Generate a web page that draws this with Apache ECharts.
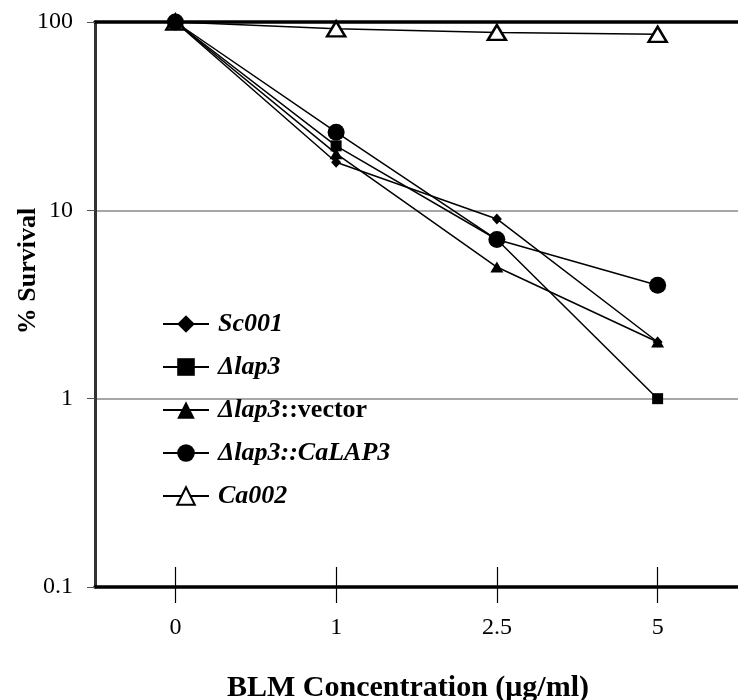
<!DOCTYPE html>
<html>
<head>
<meta charset="utf-8">
<script src="https://cdn.jsdelivr.net/npm/echarts@6/dist/echarts.min.js"></script>
<style>html,body{margin:0;padding:0;background:#fff}#c{width:738px;height:700px}</style>
</head>
<body>
<div id="c"></div>
<script>
const categories = ['0', '1', '2.5', '5'];
const sc001 = [100, 18, 9, 2];
const dlap3 = [100, 22, 7, 1];
const dlap3Vector = [100, 20, 5, 2];
const dlap3CaLAP3 = [100, 26, 7, 4];
const ca002 = [100, 92, 88, 86];
const seriesNames = ['Sc001', 'Δlap3', 'Δlap3::vector', 'Δlap3::CaLAP3', 'Ca002'];
const yTicks = [0.1, 1, 10, 100];

const chart = echarts.init(document.getElementById('c'), null, {renderer: 'canvas'});
const FONT = 'Liberation Serif';
function mk(name, data, symbol, size, filled) {
  return {
    name: name, type: 'line', data: data, xAxisIndex: 0, yAxisIndex: 0,
    symbol: symbol, symbolSize: size, showSymbol: true,
    lineStyle: {color: '#000', width: 1.5},
    itemStyle: filled ? {color: '#000', borderColor: '#000', borderWidth: 0}
                      : {color: '#fff', borderColor: '#000', borderWidth: 2.5},
    emphasis: {disabled: true}, animation: false, z: 3
  };
}
const option = {
  animation: false,
  grid: {left: 95, top: 22, width: 652, height: 565, containLabel: false},
  legend: {
    orient: 'vertical', left: 157, top: 306, itemGap: 17,
    itemWidth: 46, itemHeight: 22,
    data: seriesNames,
    formatter: function (n) {
      if (n.indexOf('::vector') > 0) return '{i|Δlap3}{b|::vector}';
      return '{i|' + n + '}';
    },
    textStyle: {
      padding: [0, 0, 0, 4],
      rich: {
        i: {fontFamily: FONT, fontSize: 26, fontWeight: 'bold', fontStyle: 'italic', color: '#000'},
        b: {fontFamily: FONT, fontSize: 26, fontWeight: 'bold', color: '#000'}
      }
    }
  },
  xAxis: [
    {
      type: 'category', data: categories, position: 'bottom', boundaryGap: true,
      axisLine: {show: true, lineStyle: {color: '#000', width: 3.5}},
      axisTick: {show: true, alignWithLabel: true, length: 16, lineStyle: {color: '#000', width: 1.2}},
      axisLabel: {fontFamily: FONT, fontSize: 24, color: '#000', margin: 29},
      splitLine: {show: false}
    },
    {
      type: 'category', data: categories, position: 'bottom', boundaryGap: true,
      axisLine: {show: false},
      axisTick: {show: true, inside: true, alignWithLabel: true, length: 20, lineStyle: {color: '#000', width: 1.2}},
      axisLabel: {show: false}, splitLine: {show: false}
    },
    {
      type: 'category', data: categories, position: 'top', boundaryGap: true,
      axisLine: {show: true, lineStyle: {color: '#000', width: 3.5}},
      axisTick: {show: false}, axisLabel: {show: false}, splitLine: {show: false}
    }
  ],
  yAxis: {
    type: 'log', logBase: 10, min: 0.1, max: 100,
    axisLine: {show: true, lineStyle: {color: '#333', width: 3}},
    axisTick: {show: true, length: 8, lineStyle: {color: '#555', width: 1}},
    axisLabel: {fontFamily: FONT, fontSize: 24, color: '#000', margin: 22,
      formatter: function (v) { const t = yTicks.find(x => Math.abs(x - v) / x < 1e-6); return t === undefined ? '' : String(t); }},
    splitLine: {show: true, lineStyle: {color: '#8a8a8a', width: 1.5}}
  },
  graphic: [
    {type: 'text', x: 408, y: 688, style: {text: 'BLM Concentration (μg/ml)', fontFamily: FONT, fontSize: 30, fontWeight: 'bold', fill: '#000', align: 'center', verticalAlign: 'middle'}},
    {type: 'text', x: 28, y: 271, rotation: Math.PI / 2, style: {text: '% Survival', fontFamily: FONT, fontSize: 26, fontWeight: 'bold', fill: '#000', align: 'center', verticalAlign: 'middle'}}
  ],
  series: [
    mk('Ca002', ca002, 'triangle', [18, 15], false),
    mk('Sc001', sc001, 'diamond', [10, 11], true),
    mk('Δlap3', dlap3, 'rect', 11, true),
    mk('Δlap3::vector', dlap3Vector, 'triangle', [13, 11], true),
    mk('Δlap3::CaLAP3', dlap3CaLAP3, 'circle', 17, true)
  ]
};
chart.setOption(option);
</script>
</body>
</html>
